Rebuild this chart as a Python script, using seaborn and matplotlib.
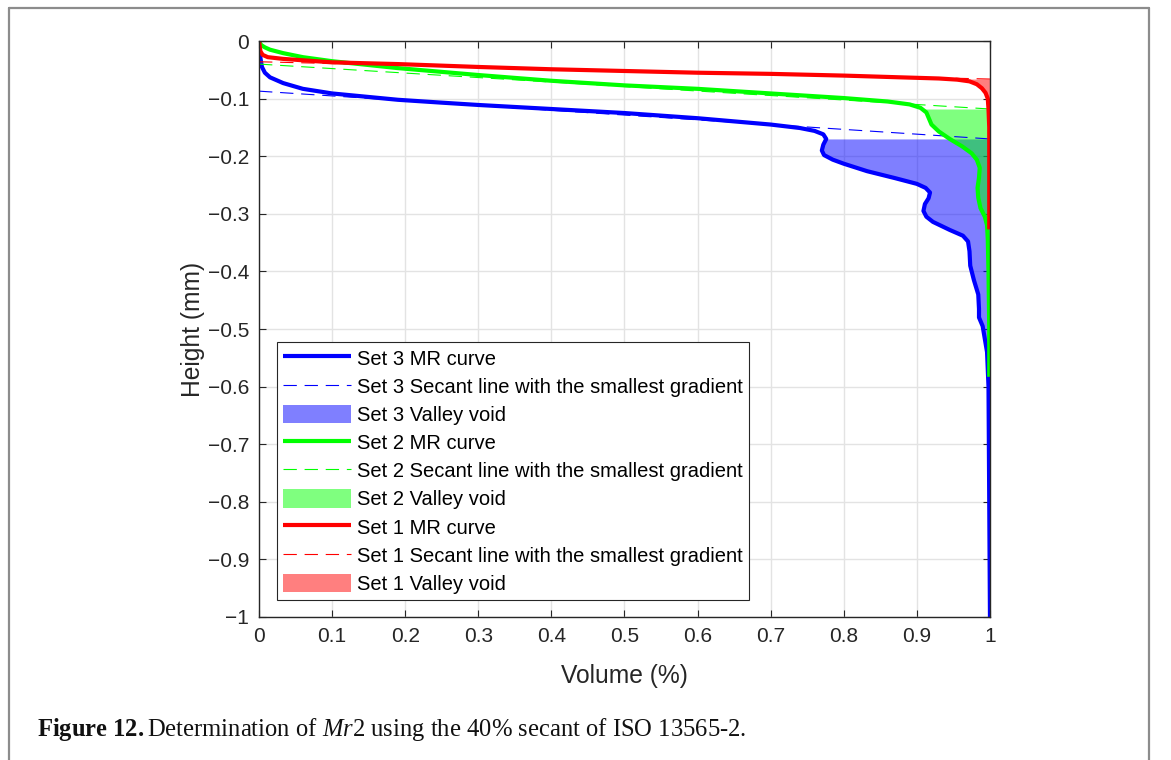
import numpy as np
import pandas as pd
import matplotlib
matplotlib.use("Agg")
import matplotlib.pyplot as plt
import seaborn as sns
from matplotlib.lines import Line2D

# Material-ratio (MR) curves: cumulative volume fraction against height (mm)
set3_volume = [0.0, 0.001, 0.002, 0.004, 0.008, 0.015, 0.033, 0.06, 0.1, 0.19, 0.25, 0.3,
               0.4, 0.5, 0.6, 0.7, 0.74, 0.76, 0.772, 0.776, 0.772, 0.770, 0.773, 0.785,
               0.8, 0.832, 0.87, 0.9, 0.912, 0.918, 0.916, 0.911, 0.909, 0.913, 0.922,
               0.945, 0.963, 0.970, 0.972, 0.973, 0.978, 0.984, 0.985, 0.985, 0.990, 0.996,
               0.998, 0.999, 1.0]
set3_height = [0.0, -0.015, -0.03, -0.045, -0.055, -0.063, -0.073, -0.083, -0.091, -0.102,
               -0.107, -0.111, -0.118, -0.125, -0.134, -0.145, -0.151, -0.156, -0.162,
               -0.170, -0.180, -0.190, -0.198, -0.206, -0.213, -0.226, -0.238, -0.248,
               -0.255, -0.263, -0.273, -0.283, -0.295, -0.305, -0.314, -0.328, -0.338,
               -0.348, -0.365, -0.390, -0.415, -0.440, -0.465, -0.480, -0.495, -0.540,
               -0.600, -0.800, -1.0]

set2_volume = [0.0, 0.001, 0.003, 0.008, 0.015, 0.033, 0.06, 0.1, 0.19, 0.3, 0.4, 0.5, 0.6,
               0.7, 0.8, 0.86, 0.89, 0.905, 0.913, 0.916, 0.92, 0.93, 0.945, 0.962, 0.975,
               0.982, 0.986, 0.985, 0.983, 0.984, 0.987, 0.993, 0.996, 0.997, 0.998, 0.999,
               0.999]
set2_height = [0.0, -0.003, -0.007, -0.011, -0.015, -0.021, -0.028, -0.035, -0.047, -0.059,
               -0.069, -0.077, -0.083, -0.091, -0.099, -0.105, -0.110, -0.116, -0.124,
               -0.133, -0.145, -0.157, -0.170, -0.183, -0.195, -0.206, -0.220, -0.237,
               -0.255, -0.272, -0.290, -0.305, -0.320, -0.344, -0.400, -0.500, -0.583]

set1_volume = [0.0, 0.001, 0.002, 0.005, 0.012, 0.033, 0.1, 0.19, 0.3, 0.4, 0.5, 0.6, 0.7,
               0.8, 0.877, 0.93, 0.955, 0.972, 0.982, 0.989, 0.994, 0.997, 0.998, 0.999,
               0.999, 0.999]
set1_height = [0.0, -0.010, -0.018, -0.024, -0.028, -0.031, -0.037, -0.040, -0.045, -0.049,
               -0.052, -0.055, -0.057, -0.060, -0.063, -0.065, -0.067, -0.070, -0.075,
               -0.082, -0.090, -0.100, -0.118, -0.150, -0.250, -0.327]

# 40% secant lines with the smallest gradient, evaluated at 0 and 100% volume
secant_volume = [0.0, 1.0]
set3_secant = [-0.087, -0.170]
set2_secant = [-0.040, -0.118]
set1_secant = [-0.036, -0.066]

x_ticks = [0.0, 0.1, 0.2, 0.3, 0.4, 0.5, 0.6, 0.7, 0.8, 0.9, 1.0]
x_tick_labels = ["0", "0.1", "0.2", "0.3", "0.4", "0.5", "0.6", "0.7", "0.8", "0.9", "1"]
y_ticks = [0.0, -0.1, -0.2, -0.3, -0.4, -0.5, -0.6, -0.7, -0.8, -0.9, -1.0]
y_tick_labels = ["0", "\u22120.1", "\u22120.2", "\u22120.3", "\u22120.4", "\u22120.5",
                 "\u22120.6", "\u22120.7", "\u22120.8", "\u22120.9", "\u22121"]

sets = [
    ("Set 3", set3_volume, set3_height, set3_secant, "#0000FF"),
    ("Set 2", set2_volume, set2_height, set2_secant, "#00FF00"),
    ("Set 1", set1_volume, set1_height, set1_secant, "#FF0000"),
]

sns.set_theme(style="white")
plt.rcParams["font.family"] = ["Liberation Sans", "DejaVu Sans"]
plt.rcParams["mathtext.fontset"] = "custom"
plt.rcParams["mathtext.rm"] = "Liberation Serif"
plt.rcParams["mathtext.it"] = "Liberation Serif:italic"
plt.rcParams["mathtext.bf"] = "Liberation Serif:bold"

fig = plt.figure(figsize=(11.71, 7.60), dpi=100)
ax = fig.add_axes([0.2212, 0.1882, 0.6242, 0.7578])

handles = []
for name, vol, hgt, sec, color in sets:
    curve = pd.DataFrame({"volume": vol, "height": hgt})
    sns.lineplot(data=curve, x="volume", y="height", sort=False, estimator=None,
                 color=color, lw=3.0, ax=ax, legend=False)
    mr_line = ax.lines[-1]
    mr_line.set_solid_joinstyle("round")
    mr_line.set_solid_capstyle("butt")
    mr_line.set_label(f"{name} MR curve")
    handles.append(mr_line)

    secant = pd.DataFrame({"volume": secant_volume, "height": sec})
    sns.lineplot(data=secant, x="volume", y="height", sort=False, estimator=None,
                 color=color, lw=0.8, ax=ax, legend=False)
    sec_line = ax.lines[-1]
    sec_line.set_linestyle((0, (12, 7)))
    sec_line.set_label(f"{name} Secant line with the smallest gradient")
    handles.append(sec_line)

    # Valley void: region between the MR curve and 100% volume below the secant end
    top = sec[-1]
    h = np.asarray(hgt)
    v = np.asarray(vol)
    x_top = np.interp(top, h[::-1], v[::-1])
    mask = h < top
    fill_h = np.concatenate([[top], h[mask]])
    fill_v = np.concatenate([[x_top], v[mask]])
    poly = ax.fill_betweenx(fill_h, fill_v, 1.0, color=color, alpha=0.5, lw=0,
                            label=f"{name} Valley void")
    handles.append(poly)

ax.set_xlim(0, 1)
ax.set_ylim(-1, 0)
ax.set_xticks(x_ticks)
ax.set_xticklabels(x_tick_labels)
ax.set_yticks(y_ticks)
ax.set_yticklabels(y_tick_labels)
ax.grid(True, color="#e3e3e3", lw=1.0)
ax.set_axisbelow(True)

for side in ["left", "right", "top", "bottom"]:
    ax.spines[side].set_visible(True)
    ax.spines[side].set_color("#262626")
    ax.spines[side].set_linewidth(1.0)
ax.tick_params(axis="both", which="both", direction="in", length=5, width=0.8,
               colors="#262626", top=True, right=True, bottom=True, left=True,
               labelsize=15, labelcolor="#262626", pad=7)

ax.set_xlabel("Volume (%)", fontsize=17.7, color="#262626")
ax.set_ylabel("Height (mm)", fontsize=17.7, color="#262626")
ax.xaxis.set_label_coords(0.5, -0.103)
ax.xaxis.label.set_va("center")
ax.yaxis.set_label_coords(-0.09, 0.5)
ax.yaxis.label.set_va("center")

leg = ax.legend(handles=handles, labels=[hd.get_label() for hd in handles],
                loc="lower left", bbox_to_anchor=(0.0246, 0.0296), fontsize=14.5,
                frameon=True, fancybox=False, shadow=False, framealpha=1.0,
                edgecolor="#262626", handlelength=3.38, handleheight=1.05,
                handletextpad=0.3, labelspacing=0.395, borderpad=0.3,
                borderaxespad=0.0)
leg.get_frame().set_linewidth(0.8)
for text in leg.get_texts():
    text.set_color("#000000")

# Caption below the chart
fig.text(0.0316, 1 - 736 / 760,
         r"$\mathbf{Figure\ 12.}$Determination of $\mathit{Mr}$2 using the 40% secant of ISO 13565-2.",
         fontsize=17.75, family="Liberation Serif", color="#111111", va="baseline", ha="left")

# Page frame lines (left, top, right)
frame_kw = dict(color="#8c8c8c", lw=1.6, transform=fig.transFigure, clip_on=False)
fig.add_artist(Line2D([8.5 / 1171, 8.5 / 1171], [-0.1, 1 - 7.5 / 760], **frame_kw))
fig.add_artist(Line2D([8.5 / 1171, 1148.5 / 1171], [1 - 7.5 / 760, 1 - 7.5 / 760], **frame_kw))
fig.add_artist(Line2D([1148.5 / 1171, 1148.5 / 1171], [-0.1, 1 - 7.5 / 760], **frame_kw))

fig.savefig("out.png", dpi=100, facecolor="white")
